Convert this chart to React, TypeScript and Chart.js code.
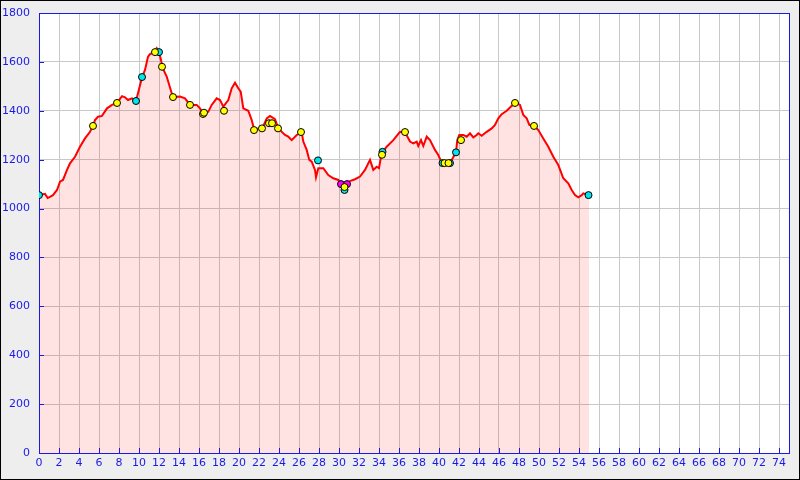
import React, { useEffect, useRef } from "react";
import { Chart, registerables } from "chart.js";

Chart.register(...registerables);

// Elevation profile: distance (km) and altitude (m)
const KM = [
  0, 0.6, 0.87, 1.4, 1.8, 2.1, 2.4, 2.8, 3.1, 3.6, 4.1, 4.6, 5.1, 5.4, 5.6, 5.9, 6.3, 6.8, 7.3, 7.8,
  8.3, 8.6, 8.9, 9.3, 9.7, 9.9, 10.3, 10.6, 10.9, 11.1, 11.5, 11.77, 12.0, 12.2, 12.33, 12.77, 13.27, 13.4,
  14.1, 14.6, 15.1, 15.77, 16.1, 16.4, 16.93, 17.27, 17.77, 18.1, 18.43, 18.93, 19.27, 19.6, 19.93, 20.17,
  20.43, 20.93, 21.27, 21.53, 21.93, 22.33, 22.77, 23.1, 23.6, 23.93, 24.6, 24.93, 25.27, 25.77, 26.27,
  26.43, 26.77, 27.03, 27.27, 27.6, 27.7, 27.93, 28.43, 28.93, 29.43, 29.93, 30.2, 30.5, 30.83, 30.93,
  31.6, 32.1, 32.6, 33.1, 33.43, 33.77, 34.0, 34.2, 34.33, 34.77, 35.43, 36.1, 36.6, 37.1, 37.43, 37.77,
  37.93, 38.2, 38.43, 38.77, 39.1, 39.6, 39.93, 40.27, 41.1, 41.27, 41.7, 41.83, 42.03, 42.43, 42.77,
  43.1, 43.43, 43.77, 43.93, 44.27, 44.77, 45.27, 45.6, 45.93, 46.27, 46.77, 47.27, 47.67, 48.1, 48.43,
  48.77, 49.03, 49.53, 49.93, 50.43, 50.93, 51.43, 51.93, 52.43, 52.93, 53.27, 53.6, 53.93, 54.27, 54.43,
  54.93, 55.0,
];
const ELEV = [
  1055, 1060, 1043, 1055, 1076, 1110, 1117, 1158, 1185, 1212, 1253, 1287, 1314, 1338, 1362, 1376, 1379, 1410, 1424, 1432,
  1460, 1455, 1444, 1451, 1440, 1472, 1537, 1567, 1621, 1632, 1639, 1656, 1640, 1608, 1578, 1540, 1472, 1456,
  1458, 1451, 1424, 1424, 1410, 1388, 1396, 1424, 1451, 1444, 1417, 1444, 1492, 1515, 1492, 1478,
  1410, 1400, 1362, 1321, 1328, 1328, 1369, 1379, 1366, 1328, 1301, 1294, 1280, 1301, 1312,
  1274, 1240, 1199, 1192, 1158, 1128, 1165, 1165, 1137, 1124, 1117, 1100, 1095, 1100, 1110,
  1120, 1131, 1158, 1199, 1158, 1171, 1165, 1212, 1228, 1253, 1280, 1314, 1312, 1274, 1267, 1274,
  1256, 1280, 1256, 1294, 1280, 1240, 1219, 1187, 1187, 1199, 1230, 1280, 1301, 1301, 1294,
  1308, 1291, 1301, 1308, 1298, 1314, 1328, 1342, 1369, 1386, 1400, 1420, 1432, 1424, 1383,
  1369, 1342, 1338, 1321, 1287, 1253, 1212, 1178, 1124, 1103, 1076, 1055, 1046, 1055, 1062,
  1055, 1055,
];

// Waypoint markers
const YELLOW_KM = [5.4, 7.8, 11.6, 12.3, 13.4, 15.1, 16.4, 16.5, 18.5, 21.5, 22.3, 23.0, 23.3, 23.9, 26.2, 30.55, 34.3, 36.6, 40.55, 40.95, 42.2, 47.6, 49.5];
const YELLOW_ELEV = [1338, 1432, 1640, 1580, 1456, 1424, 1387, 1392, 1400, 1321, 1328, 1349, 1349, 1328, 1313, 1088, 1220, 1313, 1186, 1186, 1280, 1432, 1338];
const CYAN_KM = [0, 9.7, 10.3, 12.0, 27.9, 30.55, 34.35, 40.35, 41.1, 41.7, 54.95];
const CYAN_ELEV = [1055, 1440, 1538, 1640, 1197, 1076, 1232, 1186, 1186, 1230, 1055];
const MAGENTA_KM = [30.2, 30.8];
const MAGENTA_ELEV = [1100, 1100];

const X_MIN = 0;
const X_MAX = 75;
const X_STEP = 2;
const Y_MIN = 0;
const Y_MAX = 1800;
const Y_STEP = 200;

const BLUE = "#1a1ae6";
const FONT = { family: "'DejaVu Sans', sans-serif", size: 11 };

const pts = (xs: number[], ys: number[]) => xs.map((x, i) => ({ x, y: ys[i] }));

const framePlugin = {
  id: "frame",
  beforeDraw(chart: any) {
    const { ctx, chartArea: a, width, height } = chart;
    ctx.save();
    ctx.fillStyle = "#eeeeee";
    ctx.fillRect(0, 0, width, height);
    ctx.fillStyle = "#ffffff";
    ctx.fillRect(a.left, a.top, a.right - a.left, a.bottom - a.top);
    ctx.strokeStyle = "#000000";
    ctx.lineWidth = 1;
    ctx.strokeRect(0.5, 0.5, width - 1, height - 1);
    ctx.restore();
  },
  afterDatasetDraw(chart: any, args: any) {
    if (args.index !== 3) return;
    const { ctx, chartArea: a, scales } = chart;
    ctx.save();
    ctx.strokeStyle = BLUE;
    ctx.lineWidth = 1;
    ctx.strokeRect(Math.round(a.left) + 0.5, Math.round(a.top) + 0.5, Math.round(a.right - a.left), Math.round(a.bottom - a.top));
    ctx.beginPath();
    for (let v = X_MIN; v < X_MAX; v += X_STEP) {
      const px = Math.round(scales.x.getPixelForValue(v)) + 0.5;
      ctx.moveTo(px, a.bottom);
      ctx.lineTo(px, a.bottom - 5);
    }
    for (let v = Y_MIN; v <= Y_MAX; v += Y_STEP) {
      const py = Math.round(scales.y.getPixelForValue(v)) + 0.5;
      ctx.moveTo(a.left, py);
      ctx.lineTo(a.left + 5, py);
    }
    ctx.stroke();
    ctx.restore();
  },
};

function marker(label: string, data: any[], color: string) {
  return {
    type: "scatter" as const,
    label,
    data,
    showLine: false,
    pointRadius: 3.5,
    pointBorderWidth: 1,
    pointBackgroundColor: color,
    pointBorderColor: "#000000",
    pointHoverRadius: 3.5,
  };
}

export default function App() {
  const ref = useRef<HTMLCanvasElement | null>(null);
  useEffect(() => {
    if (!ref.current) return;
    const chart = new Chart(ref.current, {
      type: "scatter",
      data: {
        datasets: [
          marker("yellow", pts(YELLOW_KM, YELLOW_ELEV), "#ffff00"),
          marker("cyan", pts(CYAN_KM, CYAN_ELEV), "#00e5ee"),
          marker("magenta", pts(MAGENTA_KM, MAGENTA_ELEV), "#ff00ff"),
          {
            type: "line" as const,
            label: "profile",
            data: pts(KM, ELEV),
            borderColor: "#ff0000",
            borderWidth: 2,
            backgroundColor: "rgba(255,0,0,0.115)",
            fill: "origin",
            pointRadius: 0,
            tension: 0,
          } as any,
        ],
      },
      options: {
        responsive: false,
        animation: false,
        events: [],
        layout: { padding: { left: 0, top: 13, right: 11, bottom: 0 } },
        plugins: { legend: { display: false }, tooltip: { enabled: false } },
        scales: {
          x: {
            type: "linear",
            min: X_MIN,
            max: X_MAX,
            grid: { color: "#c8c8c8", drawTicks: false },
            border: { display: false },
            ticks: { stepSize: X_STEP, includeBounds: false, color: BLUE, font: FONT, padding: 4, maxRotation: 0, autoSkip: false, callback: (v: any) => String(v) },
            afterFit(scale: any) { scale.height = 27; },
          },
          y: {
            type: "linear",
            min: Y_MIN,
            max: Y_MAX,
            grid: { color: "#c8c8c8", drawTicks: false },
            border: { display: false },
            ticks: { stepSize: Y_STEP, color: BLUE, font: FONT, padding: 9, callback: (v: any) => String(v) },
            afterFit(scale: any) {
              scale.width = 39;
              scale.paddingTop = 6;
              scale.paddingBottom = 6;
            },
          },
        },
      },
      plugins: [framePlugin],
    } as any);
    return () => chart.destroy();
  }, []);
  return (
    <div style={{ position: "fixed", left: 0, top: 0, width: 800, height: 480 }}>
      <canvas ref={ref} width={800} height={480} style={{ display: "block" }} />
    </div>
  );
}
